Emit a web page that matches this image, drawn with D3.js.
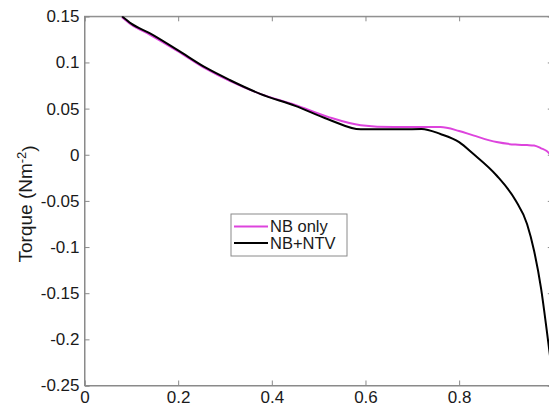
<!DOCTYPE html>
<html>
<head>
<meta charset="utf-8">
<script src="https://cdn.jsdelivr.net/npm/d3@7"></script>
<style>
  body { margin: 0; background: #fff; }
  svg { display: block; font-family: "Liberation Sans", Arial, sans-serif; }
</style>
</head>
<body>
<div id="chart"></div>
<script>
// normalised radius (x) and torque values
const rho = [0.08, 0.10, 0.14, 0.20, 0.26, 0.31, 0.375, 0.45, 0.52, 0.59, 0.66, 0.72, 0.76, 0.80, 0.83, 0.88, 0.92, 0.945, 0.96, 0.975, 0.987, 0.995];
const nbOnly = [0.149, 0.141, 0.130, 0.112, 0.093, 0.080, 0.066, 0.054, 0.041, 0.032, 0.030, 0.030, 0.030, 0.0257, 0.021, 0.0137, 0.011, 0.0105, 0.010, 0.007, 0.004, 0.0];
const nbNtv = [0.150, 0.142, 0.1315, 0.113, 0.094, 0.081, 0.066, 0.053, 0.0385, 0.0275, 0.0275, 0.028, 0.0225, 0.0137, 0.001, -0.0225, -0.049, -0.075, -0.104, -0.145, -0.19, -0.222];

const xTicks = [0, 0.2, 0.4, 0.6, 0.8, 1];
const yTicks = [0.15, 0.1, 0.05, 0, -0.05, -0.1, -0.15, -0.2, -0.25];

const seriesNames = ["NB only", "NB+NTV"];
const seriesColors = ["#dd44dd", "#000000"];

const width = 549, height = 407;
const mLeft = 84.5, mRight = 552.8, mTop = 16.3, mBottom = 385.5;
const axisColor = "#8a8a8a", textColor = "#1a1a1a";

let svg = d3.select("#chart").append("svg")
    .attr("width", width).attr("height", height);

let x = d3.scaleLinear().domain([0, 1]).range([mLeft, mRight]);
let y = d3.scaleLinear().domain([-0.25, 0.15]).range([mBottom, mTop]);

svg.append("defs").append("clipPath").attr("id", "plotclip")
    .append("rect").attr("x", mLeft).attr("y", mTop)
    .attr("width", mRight - mLeft).attr("height", mBottom - mTop);

// box
svg.append("rect")
    .attr("x", mLeft).attr("y", mTop)
    .attr("width", mRight - mLeft).attr("height", mBottom - mTop)
    .attr("fill", "none").attr("stroke", axisColor).attr("stroke-width", 1);

// bottom and left axes, ticks pointing inward (matlab style), plain hyphen minus
let xAxis = svg.append("g").attr("transform", "translate(0," + mBottom + ")")
    .call(d3.axisBottom(x).tickValues(xTicks).tickSize(-5).tickPadding(5)
        .tickFormat(d => String(d)));
let yAxis = svg.append("g").attr("transform", "translate(" + mLeft + ",0)")
    .call(d3.axisLeft(y).tickValues(yTicks).tickSize(-5).tickPadding(5)
        .tickFormat(d => String(+d.toFixed(2))));
// top and right ticks
svg.append("g").attr("transform", "translate(0," + mTop + ")")
    .call(d3.axisTop(x).tickValues(xTicks).tickSize(-5).tickFormat(""));
svg.append("g").attr("transform", "translate(" + mRight + ",0)")
    .call(d3.axisRight(y).tickValues(yTicks).tickSize(-5).tickFormat(""));

svg.selectAll(".domain").attr("stroke", axisColor);
svg.selectAll(".tick line").attr("stroke", axisColor);
svg.selectAll(".tick text").attr("fill", textColor).style("font-size", "17px")
    .style("font-family", "'Liberation Sans', Arial, sans-serif");
xAxis.selectAll(".tick text").attr("dy", "0.71em");

// y label
let yl = svg.append("text")
    .attr("transform", "translate(32," + ((mTop + mBottom) / 2 + 3) + ") rotate(-90)")
    .attr("text-anchor", "middle")
    .attr("fill", textColor)
    .style("font-size", "19px");
yl.append("tspan").text("Torque (Nm");
yl.append("tspan").attr("dy", "-0.45em").style("font-size", "13px").text("-2");
yl.append("tspan").attr("dy", "0.45em").text(")");

// curves
let line = d3.line().curve(d3.curveMonotoneX)
    .x((d, i) => x(rho[i]))
    .y(d => y(d));

let plot = svg.append("g").attr("clip-path", "url(#plotclip)");
[nbOnly, nbNtv].forEach(function (vals, k) {
    plot.append("path")
        .datum(vals)
        .attr("d", line)
        .attr("fill", "none")
        .attr("stroke", seriesColors[k])
        .attr("stroke-width", 2);
});

// legend
let legend = svg.append("g").attr("transform", "translate(231,214)");
legend.append("rect")
    .attr("width", 116).attr("height", 42)
    .attr("fill", "#fff").attr("stroke", axisColor).attr("stroke-width", 1);
seriesNames.forEach(function (name, k) {
    let ly = 12.5 + k * 16.5;
    legend.append("line")
        .attr("x1", 3).attr("x2", 37).attr("y1", ly).attr("y2", ly)
        .attr("stroke", seriesColors[k]).attr("stroke-width", 2);
    legend.append("text")
        .attr("x", 39).attr("y", ly).attr("dy", "0.35em")
        .attr("fill", textColor).style("font-size", "16.5px")
        .text(name);
});
</script>
</body>
</html>
